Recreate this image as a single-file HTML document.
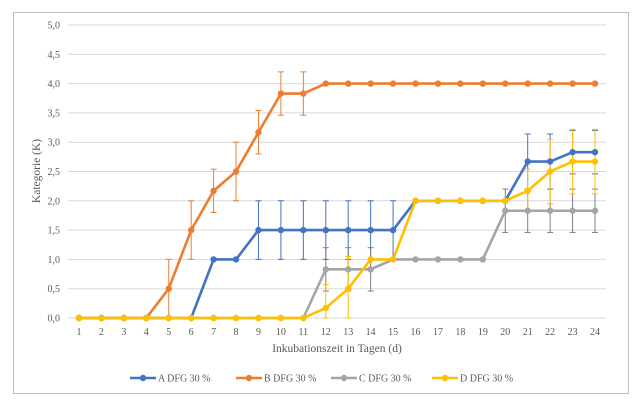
<!DOCTYPE html>
<html><head><meta charset="utf-8"><style>
html,body{margin:0;padding:0;background:#fff;}
svg text{font-family:"Liberation Serif",serif;fill:#595959;}
</style></head><body>
<svg id="c" width="640" height="401" xmlns="http://www.w3.org/2000/svg"></svg>
<script>
const s=document.getElementById('c');let h='';
h+='<rect x="13.5" y="12.5" width="615" height="381" fill="#fff" stroke="#bfbfbf" stroke-width="1"/>';
const X=d=>79+(d-1)*(595-79)/23, Y=v=>318-v*58.6;
for(let i=0;i<=10;i++){const v=i*0.5,y=Y(v);h+=`<line x1="68" x2="606" y1="${y}" y2="${y}" stroke="#d9d9d9"/>`;h+=`<text x="60" y="${y+3.5}" font-size="10" text-anchor="end">${v.toFixed(1).replace('.',',')}</text>`;}
for(let d=1;d<=24;d++)h+=`<text x="${X(d)}" y="335" font-size="10" text-anchor="middle">${d}</text>`;
h+=`<text x="337" y="352" font-size="11.5" text-anchor="middle">Inkubationszeit in Tagen (d)</text>`;
h+=`<text transform="translate(40,171) rotate(-90)" font-size="11.5" text-anchor="middle">Kategorie (K)</text>`;
const S=[
{c:'#4472c4',e:'#4472c4',d:[0,0,0,0,0,0,1,1,1.5,1.5,1.5,1.5,1.5,1.5,1.5,2,2,2,2,2,2.67,2.67,2.83,2.83],er:{9:.5,10:.5,11:.5,12:.5,13:.5,14:.5,15:.5,21:.47,22:.47,23:.37,24:.37}},
{c:'#ed7d31',e:'#ed7d31',d:[0,0,0,0,.5,1.5,2.17,2.5,3.17,3.83,3.83,4,4,4,4,4,4,4,4,4,4,4,4,4],er:{5:.5,6:.5,7:.37,8:.5,9:.37,10:.37,11:.37}},
{c:'#a5a5a5',e:'#7f7f7f',d:[0,0,0,0,0,0,0,0,0,0,0,.83,.83,.83,1,1,1,1,1,1.83,1.83,1.83,1.83,1.83],er:{12:.37,13:.37,14:.37,20:.37,21:.37,22:.37,23:.37,24:.37}},
{c:'#ffc000',e:'#ffc000',d:[0,0,0,0,0,0,0,0,0,0,0,.17,.5,1,1,2,2,2,2,2,2.17,2.5,2.67,2.67],er:{12:.4,13:.55,21:.37,22:.55,23:.55,24:.55}}];
S.forEach(o=>{for(const k in o.er){const x=X(+k),v=o.d[k-1],e=o.er[k],y1=Y(v+e),y2=Y(Math.max(0,v-e));h+=`<g stroke="${o.e}" stroke-width="1"><line x1="${x}" x2="${x}" y1="${y1}" y2="${y2}"/><line x1="${x-3}" x2="${x+3}" y1="${y1}" y2="${y1}"/><line x1="${x-3}" x2="${x+3}" y1="${y2}" y2="${y2}"/></g>`;}});
S.forEach(o=>{h+=`<polyline fill="none" stroke="${o.c}" stroke-width="2.6" stroke-linejoin="round" points="${o.d.map((v,i)=>X(i+1)+','+Y(v)).join(' ')}"/>`;o.d.forEach((v,i)=>h+=`<circle cx="${X(i+1)}" cy="${Y(v)}" r="3.2" fill="${o.c}"/>`);});
const L=[['A  DFG 30 %',130],['B DFG 30 %',236],['C  DFG 30 %',331],['D DFG 30 %',432]];
L.forEach((l,i)=>{const x=l[1],c=S[i].c;h+=`<line x1="${x}" x2="${x+26}" y1="378" y2="378" stroke="${c}" stroke-width="2.6"/><circle cx="${x+13}" cy="378" r="3.2" fill="${c}"/><text x="${x+28}" y="381.5" font-size="10">${l[0]}</text>`;});
s.innerHTML=h;
</script>
</body></html>
